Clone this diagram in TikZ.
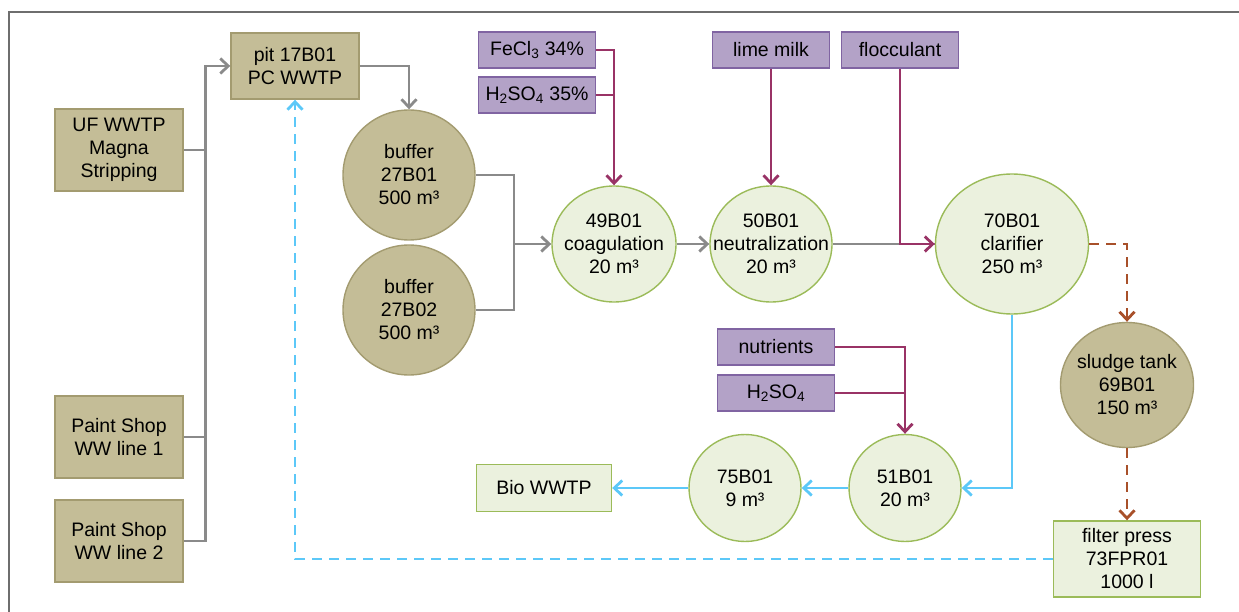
\documentclass[tikz,border=0pt]{standalone}
\usepackage{fontspec}
\setmainfont{Liberation Sans}
\usepackage{tikz}
\usetikzlibrary{arrows.meta,shapes.geometric}
\definecolor{tanfill}{HTML}{C4BD97}
\definecolor{tanline}{HTML}{A39B70}
\definecolor{grnfill}{HTML}{EBF1DE}
\definecolor{grnline}{HTML}{9BBB59}
\definecolor{purfill}{HTML}{B3A2C7}
\definecolor{purline}{HTML}{8064A2}
\definecolor{dosecol}{HTML}{993366}
\definecolor{watcol}{HTML}{5CC8F8}
\definecolor{mudcol}{HTML}{A8502A}
\definecolor{flowcol}{HTML}{8A8A8A}

\begin{document}
\begin{tikzpicture}[x=1pt,y=-1pt,
  every node/.style={font=\fontsize{19.5}{23}\selectfont,align=center,inner sep=0pt},
  >={Straight Barb[length=8pt,width=15pt]},
  src/.style={draw=tanline,fill=tanfill,line width=1.4pt,minimum width=128pt,minimum height=82pt},
  tank/.style={ellipse,draw=tanline,fill=tanfill,line width=1.4pt,inner sep=-30pt},
  proc/.style={ellipse,draw=grnline,fill=grnfill,line width=1.4pt,inner sep=-30pt},
  unit/.style={draw=grnline,fill=grnfill,line width=1.4pt},
  chem/.style={draw=purline,fill=purfill,line width=1.4pt,minimum width=117pt,minimum height=36pt},
  flow/.style={draw=flowcol,line width=2.8pt},
  dose/.style={draw=dosecol,line width=2.8pt},
  water/.style={draw=watcol,line width=2.8pt},
  mud/.style={draw=mudcol,line width=2.8pt,dash pattern=on 10pt off 7pt},
  back/.style={draw=watcol,line width=2.8pt,dash pattern=on 10pt off 7pt}]
  \useasboundingbox (0,0) rectangle (1239,612);
  \draw[draw=flowcol!80!black,line width=2pt] (9,612) -- (9,12) -- (1239,12);

  % sources
  \node[src,minimum height=66pt] (pit) at (295,66) {pit 17B01\\PC WWTP};
  \node[src] (uf) at (119,150) {UF WWTP\\Magna\\Stripping};
  \node[src] (ps1) at (119,437) {Paint Shop\\WW line 1};
  \node[src] (ps2) at (119,541) {Paint Shop\\WW line 2};

  % tanks
  \node[tank,minimum width=132pt,minimum height=130pt] (buf1) at (409,175) {buffer\\27B01\\500 m³};
  \node[tank,minimum width=132pt,minimum height=130pt] (buf2) at (409,310) {buffer\\27B02\\500 m³};
  \node[proc,minimum width=124pt,minimum height=116pt] (coag) at (614,244) {49B01\\coagulation\\20 m³};
  \node[proc,minimum width=122pt,minimum height=116pt] (neut) at (771,244) {50B01\\neutralization\\20 m³};
  \node[proc,minimum width=153pt,minimum height=140pt] (clar) at (1012,244) {70B01\\clarifier\\250 m³};
  \node[tank,minimum width=133pt,minimum height=125pt] (sludge) at (1127,385) {sludge tank\\69B01\\150 m³};
  \node[unit,minimum width=147pt,minimum height=76pt] (press) at (1127,559) {filter press\\73FPR01\\1000 l};
  \node[proc,minimum width=112pt,minimum height=107pt] (b51) at (905,488) {51B01\\20 m³};
  \node[proc,minimum width=112pt,minimum height=107pt] (b75) at (745,488) {75B01\\9 m³};
  \node[unit,minimum width=135pt,minimum height=47pt] (bio) at (544,488) {Bio WWTP};

  % chemicals
  \node[chem] (fecl) at (537,50) {FeCl\textsubscript{3} 34\%};
  \node[chem] (acid) at (537,95) {H\textsubscript{2}SO\textsubscript{4} 35\%};
  \node[chem] (lime) at (771,50) {lime milk};
  \node[chem] (floc) at (900,50) {flocculant};
  \node[chem] (nutr) at (776,347) {nutrients};
  \node[chem] (acid2) at (776,393) {H\textsubscript{2}SO\textsubscript{4}};

  % waste water
  \draw[flow,->] (ps2.east) -- ++(22,0) coordinate (bus) |- (pit.west);
  \draw[flow] (uf.east) -- (uf.east -| bus);
  \draw[flow] (ps1.east) -- (ps1.east -| bus);
  \draw[flow,->] (pit.east) -| (buf1.north);
  \coordinate (mix) at (514,244);
  \draw[flow] (buf1.east) -| (mix);
  \draw[flow,->] (buf2.east) -| (mix) -- (coag.west);
  \draw[flow,->] (coag.east) -- (neut.west);
  \draw[flow] (neut.east) -- (clar.west);

  % dosing
  \draw[dose,->] (fecl.east) -| (coag.north);
  \draw[dose] (acid.east) -- (acid.east -| coag.north);
  \draw[dose,->] (lime.south) -- (neut.north);
  \draw[dose,->] (floc.south) |- (clar.west);
  \draw[dose,->] (nutr.east) -| (b51.north);
  \draw[dose] (acid2.east) -- (acid2.east -| b51.north);

  % clean water and sludge
  \draw[water,->] (clar.south) |- (b51.east);
  \draw[water,->] (b51.west) -- (b75.east);
  \draw[water,->] (b75.west) -- (bio.east);
  \draw[mud,->] (clar.east) -| (sludge.north);
  \draw[mud,->] (sludge.south) -- (press.north);
  \draw[back,->] (press.west) -| (pit.south);
\end{tikzpicture}
\end{document}
